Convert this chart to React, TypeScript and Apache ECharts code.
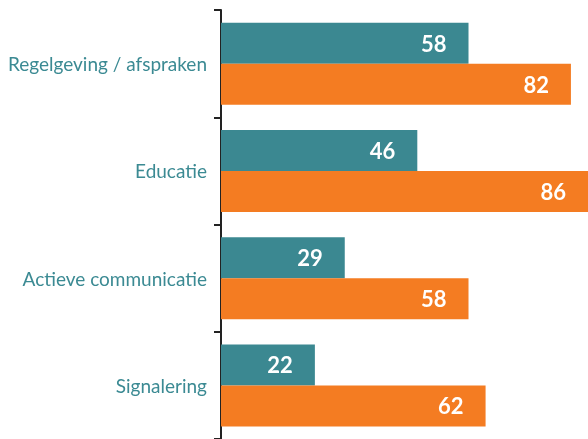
import React, { useEffect, useRef } from "react";
import * as echarts from "echarts";

const categories = ["Regelgeving / afspraken", "Educatie", "Actieve communicatie", "Signalering"];
const seriesA = [58, 46, 29, 22];
const seriesB = [82, 86, 58, 62];

export default function App() {
  const ref = useRef<HTMLDivElement>(null);
  useEffect(() => {
    const chart = echarts.init(ref.current!, null, { renderer: "svg" });
    const label = {
      show: true,
      position: "insideRight",
      distance: 22,
      color: "#ffffff",
      fontFamily: "Lato",
      fontWeight: "bold",
      fontSize: 22,
    };
    chart.setOption({
      animation: false,
      grid: { left: 221, top: 10, width: 370, height: 432, containLabel: false },
      xAxis: { type: "value", min: 0, max: 86, show: false },
      yAxis: {
        type: "category",
        data: categories,
        inverse: true,
        axisLine: { show: true, lineStyle: { color: "#222", width: 2 } },
        axisTick: { show: true, length: 7, lineStyle: { color: "#222", width: 2 } },
        axisLabel: { color: "#3b8a93", fontFamily: "Lato", fontSize: 19, margin: 14, padding: [0, 0, 7, 0] },
        splitLine: { show: false },
      },
      series: [
        { type: "bar", data: seriesA, barWidth: 41, barGap: "0%", itemStyle: { color: "#3b8891" }, label },
        { type: "bar", data: seriesB, barWidth: 41, barGap: "0%", itemStyle: { color: "#f47c22" }, label },
      ],
    });
    return () => chart.dispose();
  }, []);
  return <div ref={ref} style={{ position: "fixed", left: 0, top: 0, width: 588, height: 439 }} />;
}
